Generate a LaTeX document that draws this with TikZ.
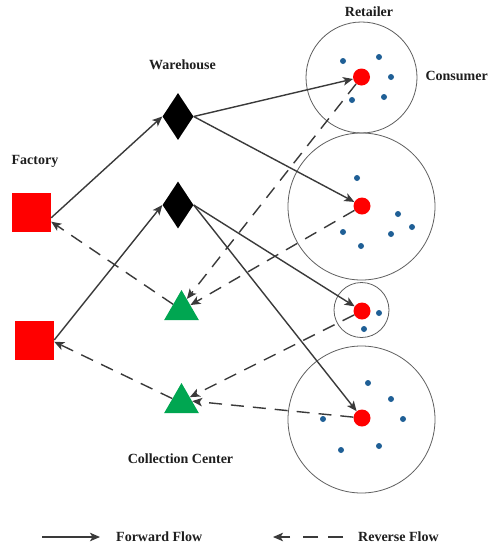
\documentclass[tikz,border=0pt]{standalone}
\usepackage{fontspec}
\setmainfont{Liberation Serif}
\usetikzlibrary{arrows.meta,shapes.geometric}
\definecolor{flowgray}{RGB}{58,58,58}
\definecolor{plantred}{RGB}{255,0,0}
\definecolor{ccgreen}{RGB}{0,166,81}
\definecolor{custblue}{RGB}{31,95,150}
\definecolor{ringgray}{RGB}{95,95,95}
\definecolor{labelblack}{RGB}{30,30,30}

\begin{document}
\begin{tikzpicture}[x=1pt,y=-1pt,
  lbl/.style={font=\fontsize{14}{16}\selectfont\bfseries, text=labelblack, inner sep=0pt},
  factory/.style={rectangle, fill=plantred, minimum size=39pt, inner sep=0pt},
  warehouse/.style={diamond, fill=black, minimum width=31pt, minimum height=47pt, inner sep=0pt},
  collect/.style={regular polygon, regular polygon sides=3, fill=ccgreen, minimum size=40pt, inner sep=0pt},
  region/.style={circle, draw=ringgray, line width=0.8pt, inner sep=0pt},
  retailer/.style={circle, fill=plantred, minimum size=17pt, inner sep=0pt},
  consumer/.style={circle, fill=custblue, minimum size=6pt, inner sep=0pt},
  forward/.style={draw=flowgray, line width=1.4pt, -{Stealth[length=10pt,width=8.5pt,inset=2.5pt]}},
  reverse/.style={forward, dash pattern=on 13pt off 9pt},
  tiponly/.style={draw=flowgray, fill=flowgray, line width=1.4pt},
]
\useasboundingbox (0,0) rectangle (489,547);
\fill[white] (0,0) rectangle (489,547);

% market areas
\node[region, minimum size=111pt] (c1) at (361.5,77.5) {};
\node[region, minimum size=147pt] (c2) at (361.5,206.5) {};
\node[region, minimum size=55pt]  (c3) at (361.5,310) {};
\node[region, minimum size=147pt] (c4) at (361.5,419.5) {};

% consumers
\foreach \x/\y [count=\i] in {343/61, 379/57, 391/77, 352/100, 384/97,
    357/178, 398/214, 412/227, 391/234, 343/232, 361/246,
    379/313, 364/329,
    368/383, 391/399, 403/419, 323/419, 379/446, 341/450}
  \node[consumer] (cu\i) at (\x,\y) {};

% retailers
\node[retailer] (r1) at (361.5,77) {};
\node[retailer] (r2) at (362,206) {};
\node[retailer] (r3) at (362,311) {};
\node[retailer] (r4) at (362,418) {};

% factories, warehouses, collection centers
\node[factory] (f1) at (31.5,212.5) {};
\node[factory] (f2) at (34.5,340) {};
\node[warehouse] (w1) at (178,116.5) {};
\node[warehouse] (w2) at (178,205) {};
\node[collect] (t1) at (181.5,310) {};
\node[collect] (t2) at (181.5,403) {};

% labels
\node[lbl] (lretail) at (369,12) {Retailer};
\node[lbl, anchor=east] (lcons) at (488,76) {Consumer};
\node[lbl] (lware) at (182.5,65) {Warehouse};
\node[lbl] (lfact) at (35,161) {Factory};
\node[lbl] (lcoll) at (180.5,459) {Collection Center};

% forward flow
\draw[forward] (f1.-15) -- (w1.west);
\draw[forward] (f2.east) -- (w2.west);
\draw[forward] (w1.east) -- (r1);
\draw[forward] (w1.east) -- (r2);
\draw[forward] (w2.east) -- (r3);
\draw[forward] (w2.east) -- (r4);

% reverse flow
\draw[reverse] (r1) -- (t1.64);
\draw[reverse] (r2) -- (t1.29);
\draw[reverse] (r3) -- (t2.35);
\draw[reverse] (r4) -- (t2.10);
\draw[reverse] (t1) -- (f1.-25);
\draw[reverse] (t2) -- (f2.-5);

% legend
\coordinate (fa) at (42,537);
\coordinate (fb) at (100,537);
\draw[forward] (fa) -- (fb);
\node[lbl, anchor=west] (lfwd) at (116,537) {Forward Flow};
\coordinate (ra) at (343,537);
\coordinate (rc) at (302,537);
\coordinate (rd) at (290,537);
\coordinate (rb) at (273,537);
\draw[reverse, -, dash pattern=on 15pt off 10pt] (ra) -- (rc);
\draw[forward] (rd) -- (rb);
\node[lbl, anchor=west] (lrev) at (358,537) {Reverse Flow};
\end{tikzpicture}
\end{document}
